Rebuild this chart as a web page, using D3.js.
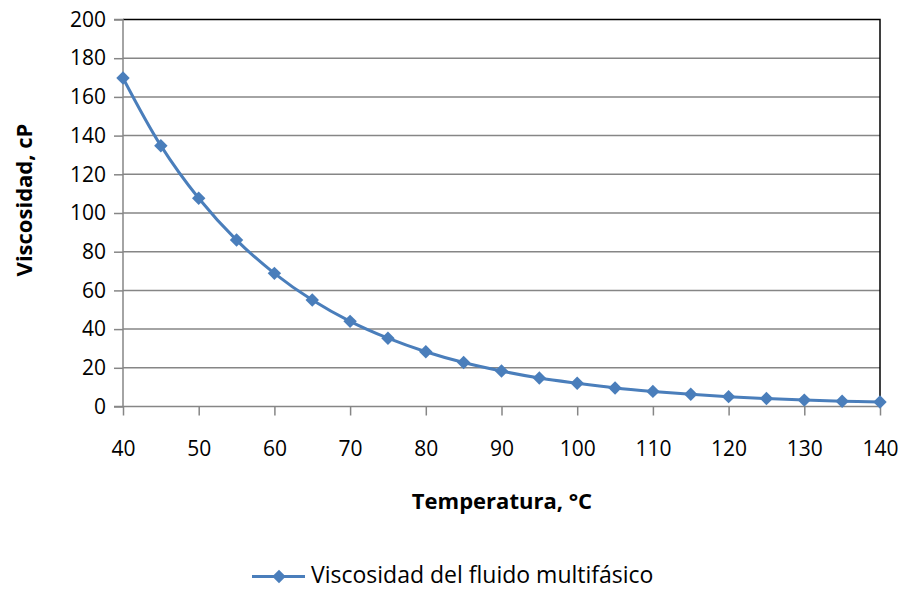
<!DOCTYPE html>
<html>
<head>
<meta charset="utf-8">
<script src="https://cdn.jsdelivr.net/npm/d3@7"></script>
<style>
  html, body { margin: 0; padding: 0; background: #fff; }
  svg { display: block; font-family: "Open Sans", Lato, sans-serif; }
</style>
</head>
<body>
<svg id="chart" width="903" height="589"></svg>
<script>
// Temperatura (°C) y viscosidad (cP)
const temperaturas = [40, 45, 50, 55, 60, 65, 70, 75, 80, 85, 90, 95, 100, 105, 110, 115, 120, 125, 130, 135, 140];
const viscosidades = [169.8, 134.8, 107.6, 86.0, 68.8, 55.0, 44.0, 35.3, 28.3, 22.7, 18.3, 14.7, 12.0, 9.6, 7.8, 6.3, 5.1, 4.1, 3.3, 2.7, 2.3];
const xTicks = [40, 50, 60, 70, 80, 90, 100, 110, 120, 130, 140];
const yTicks = [0, 20, 40, 60, 80, 100, 120, 140, 160, 180, 200];
const serieNombre = "Viscosidad del fluido multifásico";
const xTitulo = "Temperatura, °C";
const yTitulo = "Viscosidad, cP";

const color = "#4a7ebb";
const grid = "#868686";
const fuente = "'Open Sans', Lato, sans-serif";

const svg = d3.select("#chart");
const pLeft = 123, pRight = 880, pTop = 19.5, pBottom = 406.5;

const x = d3.scaleLinear().domain([40, 140]).range([pLeft, pRight]);
const y = d3.scaleLinear().domain([0, 200]).range([pBottom, pTop]);

// Líneas de cuadrícula horizontales
svg.append("g").selectAll("line")
  .data(yTicks.filter(d => d > 0 && d < 200))
  .join("line")
  .attr("x1", pLeft).attr("x2", pRight)
  .attr("y1", d => y(d)).attr("y2", d => y(d))
  .attr("stroke", grid).attr("stroke-width", 1.5);

// Borde superior y derecho del área de trazado
svg.append("path")
  .attr("d", `M${pLeft},${y(200)}H${pRight}V${pBottom}`)
  .attr("fill", "none").attr("stroke", "#000").attr("stroke-width", 1.5);

// Eje Y
const yAxis = svg.append("g")
  .attr("transform", `translate(${pLeft},0)`)
  .call(d3.axisLeft(y).tickValues(yTicks).tickSize(9).tickPadding(8).tickFormat(d3.format("d")));
// Eje X
const xAxis = svg.append("g")
  .attr("transform", `translate(0,${pBottom})`)
  .call(d3.axisBottom(x).tickValues(xTicks).tickSize(9).tickPadding(26).tickFormat(d3.format("d")));

[yAxis, xAxis].forEach(a => {
  a.select(".domain").attr("stroke", grid).attr("stroke-width", 1.5);
  a.selectAll(".tick line").attr("stroke", grid).attr("stroke-width", 1.5);
  a.selectAll(".tick text").attr("fill", "#000").attr("font-size", 21).attr("font-family", fuente);
});
xAxis.select(".domain").attr("d", `M${pLeft},0H${pRight}`);
yAxis.select(".domain").attr("d", `M-9,${y(0)}H0V${y(200)}H-9`);

// Curva suavizada
const pts = temperaturas.map((t, i) => [t, viscosidades[i]]);
svg.append("path")
  .datum(pts)
  .attr("d", d3.line().x(d => x(d[0])).y(d => y(d[1])).curve(d3.curveCatmullRom.alpha(0.5)))
  .attr("fill", "none").attr("stroke", color).attr("stroke-width", 3);

// Marcadores en rombo
const diamond = d3.symbol().type(d3.symbolDiamond2).size(115);
svg.append("g").selectAll("path")
  .data(pts)
  .join("path")
  .attr("transform", d => `translate(${x(d[0])},${y(d[1])})`)
  .attr("d", diamond)
  .attr("fill", color);

// Títulos de ejes
svg.append("text")
  .attr("x", 502).attr("y", 509)
  .attr("text-anchor", "middle").attr("font-weight", "bold").attr("font-size", 22)
  .text(xTitulo);
svg.append("text")
  .attr("transform", `translate(32,${200}) rotate(-90)`)
  .attr("text-anchor", "middle").attr("font-weight", "bold").attr("font-size", 22)
  .text(yTitulo);

// Leyenda
const lg = svg.append("g").attr("transform", "translate(252,576.5)");
lg.append("line").attr("x1", 0).attr("x2", 53).attr("y1", 0).attr("y2", 0)
  .attr("stroke", color).attr("stroke-width", 3);
lg.append("path").attr("transform", "translate(27,0)").attr("d", diamond).attr("fill", color);
lg.append("text").attr("x", 59).attr("y", 6.5).attr("font-size", 23).text(serieNombre);
</script>
</body>
</html>
